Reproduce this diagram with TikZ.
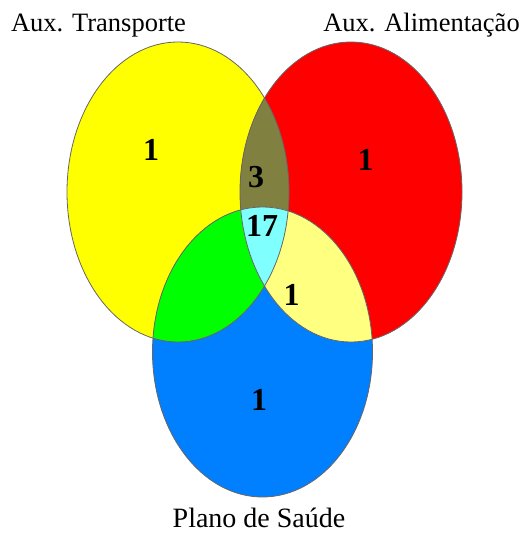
\documentclass[tikz,border=0pt]{standalone}
\usepackage{fontspec}
\setmainfont{Liberation Serif}
\definecolor{cYel}{HTML}{FFFF00}
\definecolor{cRed}{HTML}{FF0000}
\definecolor{cBlu}{HTML}{0080FF}
\definecolor{cOli}{HTML}{808040}
\definecolor{cGrn}{HTML}{00FF00}
\definecolor{cLye}{HTML}{FFFF80}
\definecolor{cCya}{HTML}{80FFFF}
\def\Yel{(178,192) ellipse [x radius=111pt, y radius=150pt]}
\def\Red{(351,192) ellipse [x radius=111pt, y radius=150pt]}
\def\Blu{(262.5,352) ellipse [x radius=110pt, y radius=145pt]}
\begin{document}
\begin{tikzpicture}[x=1pt,y=-1pt,
  outline/.style={draw=black!60, line width=0.8pt},
  lab/.style={font=\fontsize{26.5}{30}\selectfont, inner sep=0pt, anchor=base},
  num/.style={font=\fontsize{32}{34}\selectfont\bfseries, inner sep=0pt}]
\useasboundingbox (0,0) rectangle (521,534);
\fill[cYel] \Yel;
\fill[cRed] \Red;
\fill[cBlu] \Blu;
\begin{scope}\clip \Yel; \fill[cOli] \Red; \end{scope}
\begin{scope}\clip \Yel; \fill[cGrn] \Blu; \end{scope}
\begin{scope}\clip \Red; \fill[cLye] \Blu; \end{scope}
\begin{scope}\clip \Yel; \clip \Red; \fill[cCya] \Blu; \end{scope}
\draw[outline] \Yel;
\draw[outline] \Red;
\draw[outline] \Blu;
\node[lab] (tT) at (98.5,32) {Aux. Transporte};
\node[lab] (tA) at (421.5,32) {Aux. Alimentação};
\node[lab, font=\fontsize{28}{30}\selectfont] (tP) at (259,527) {Plano de Saúde};
\node[num] (nY) at (151,150) {1};
\node[num] (nR) at (365.5,160) {1};
\node[num] (nYR) at (256,177) {3};
\node[num] (nAll) at (262,226) {17};
\node[num] (nRB) at (291.5,294.5) {1};
\node[num] (nB) at (259,400) {1};
\end{tikzpicture}
\end{document}
